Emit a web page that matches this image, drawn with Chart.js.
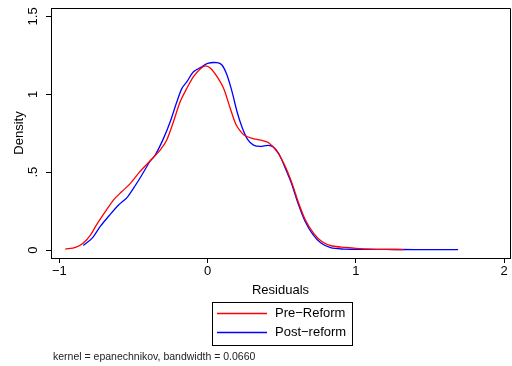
<!DOCTYPE html>
<html>
<head>
<meta charset="utf-8">
<script src="https://cdn.jsdelivr.net/npm/chart.js@4"></script>
<style>
  html, body { margin: 0; padding: 0; background: #fff; }
  #wrap { width: 512px; height: 366px; }
</style>
</head>
<body>
<div id="wrap"><canvas id="kdensity" width="512" height="366"></canvas></div>
<script>
// Kernel density of residuals, pre vs post reform
const preX = [-0.96, -0.89, -0.84, -0.79, -0.75, -0.69, -0.635, -0.58, -0.52, -0.455, -0.39, -0.32, -0.275, -0.23, -0.185, -0.14, -0.095, -0.05, -0.015, 0.02, 0.064, 0.108, 0.153, 0.19, 0.22, 0.25, 0.30, 0.36, 0.41, 0.47, 0.525, 0.57, 0.615, 0.66, 0.716, 0.773, 0.84, 0.93, 1.00, 1.10, 1.20, 1.32];
const preY = [0.006, 0.017, 0.043, 0.096, 0.16, 0.246, 0.321, 0.374, 0.428, 0.505, 0.57, 0.642, 0.707, 0.824, 0.952, 1.038, 1.113, 1.162, 1.183, 1.167, 1.113, 1.038, 0.91, 0.81, 0.765, 0.735, 0.717, 0.705, 0.69, 0.63, 0.535, 0.428, 0.30, 0.193, 0.107, 0.053, 0.026, 0.017, 0.011, 0.006, 0.004, 0.003];
const postX = [-0.838, -0.78, -0.725, -0.66, -0.60, -0.545, -0.50, -0.443, -0.39, -0.353, -0.297, -0.252, -0.207, -0.173, -0.139, -0.095, -0.038, 0.00, 0.064, 0.097, 0.131, 0.165, 0.199, 0.232, 0.27, 0.31, 0.356, 0.41, 0.446, 0.48, 0.52, 0.565, 0.61, 0.655, 0.71, 0.765, 0.83, 0.92, 1.00, 1.20, 1.40, 1.69];
const postY = [0.03, 0.075, 0.15, 0.225, 0.289, 0.335, 0.396, 0.482, 0.567, 0.61, 0.717, 0.824, 0.952, 1.038, 1.081, 1.145, 1.177, 1.199, 1.203, 1.188, 1.124, 1.017, 0.888, 0.79, 0.71, 0.674, 0.665, 0.672, 0.66, 0.62, 0.535, 0.43, 0.30, 0.19, 0.10, 0.045, 0.015, 0.006, 0.005, 0.004, 0.003, 0.003];
const seriesNames = ['Pre\u2212Reform', 'Post\u2212reform'];
const xTicks = [-1, 0, 1, 2];
const xTickLabels = ['\u22121', '0', '1', '2'];
const yTicks = [0, 0.5, 1, 1.5];
const yTickLabels = ['0', '.5', '1', '1.5'];
const note = 'kernel = epanechnikov, bandwidth = 0.0660';

const FONT = 'Liberation Sans, Arial, Helvetica, sans-serif';

function toPoints(xs, ys) {
    return xs.map((x, i) => ({ x: x, y: ys[i] }));
}

// frame, vertical y labels, legend box and note under the plot
const extras = {
    id: 'extras',
    afterDraw(chart) {
        const ctx = chart.ctx;
        const a = chart.chartArea;
        const ys = chart.scales.y;
        ctx.save();
        ctx.strokeStyle = '#000';
        ctx.lineWidth = 1;
        ctx.beginPath();
        ctx.moveTo(a.left, a.top + 0.5);
        ctx.lineTo(a.right + 0.5, a.top + 0.5);
        ctx.lineTo(a.right + 0.5, a.bottom);
        ctx.stroke();

        // y tick labels, rotated like Stata
        ctx.fillStyle = '#000';
        ctx.font = '13px ' + FONT;
        ctx.textAlign = 'center';
        ctx.textBaseline = 'middle';
        yTicks.forEach((v, i) => {
            ctx.save();
            ctx.translate(33, ys.getPixelForValue(v));
            ctx.rotate(-Math.PI / 2);
            ctx.fillText(yTickLabels[i], 0, 0);
            ctx.restore();
        });

        // legend
        ctx.textAlign = 'left';
        ctx.strokeStyle = '#000';
        ctx.lineWidth = 1;
        ctx.strokeRect(212.5, 302.5, 140, 43);
        chart.data.datasets.forEach((ds, i) => {
            const y = 313.5 + i * 19;
            ctx.strokeStyle = ds.borderColor;
            ctx.lineWidth = 1.3;
            ctx.beginPath();
            ctx.moveTo(217, y);
            ctx.lineTo(267, y);
            ctx.stroke();
            ctx.fillText(ds.label, 275, y);
        });

        ctx.font = '10.5px ' + FONT;
        ctx.fillStyle = '#222';
        ctx.fillText(note, 53, 357);
        ctx.restore();
    }
};

new Chart(document.getElementById('kdensity'), {
    type: 'line',
    data: {
        datasets: [{
            label: seriesNames[0],
            data: toPoints(preX, preY),
            borderColor: '#ff0000',
            borderWidth: 1.3,
            pointRadius: 0,
            tension: 0.3,
            fill: false
        }, {
            label: seriesNames[1],
            data: toPoints(postX, postY),
            borderColor: '#0000ff',
            borderWidth: 1.3,
            pointRadius: 0,
            tension: 0.3,
            fill: false
        }]
    },
    options: {
        responsive: false,
        animation: false,
        devicePixelRatio: 1,
        layout: { padding: { left: 0, top: 8, right: 2, bottom: 68 } },
        plugins: {
            legend: { display: false },
            tooltip: { enabled: false }
        },
        scales: {
            x: {
                type: 'linear',
                min: -1.056,
                max: 2.04,
                afterBuildTicks: (s) => { s.ticks = xTicks.map(v => ({ value: v })); },
                afterFit: (s) => { s.height = 40; },
                grid: { drawOnChartArea: false, drawTicks: true, tickLength: 5, color: '#000' },
                border: { display: true, color: '#000', width: 1 },
                ticks: {
                    color: '#000',
                    font: { family: FONT, size: 13 },
                    padding: 1,
                    maxRotation: 0,
                    callback: (v) => xTickLabels[xTicks.indexOf(v)]
                },
                title: {
                    display: true,
                    text: 'Residuals',
                    color: '#000',
                    font: { family: FONT, size: 13 },
                    padding: { top: 0, bottom: 0 }
                }
            },
            y: {
                type: 'linear',
                min: -0.051,
                max: 1.554,
                afterBuildTicks: (s) => { s.ticks = yTicks.map(v => ({ value: v })); },
                afterFit: (s) => { s.width = 51; },
                grid: { drawOnChartArea: false, drawTicks: true, tickLength: 5, color: '#000' },
                border: { display: true, color: '#000', width: 1 },
                ticks: { display: false },
                title: {
                    display: true,
                    text: 'Density',
                    color: '#000',
                    font: { family: FONT, size: 13 },
                    padding: { top: 12, bottom: 0 }
                }
            }
        }
    },
    plugins: [extras]
});
</script>
</body>
</html>
